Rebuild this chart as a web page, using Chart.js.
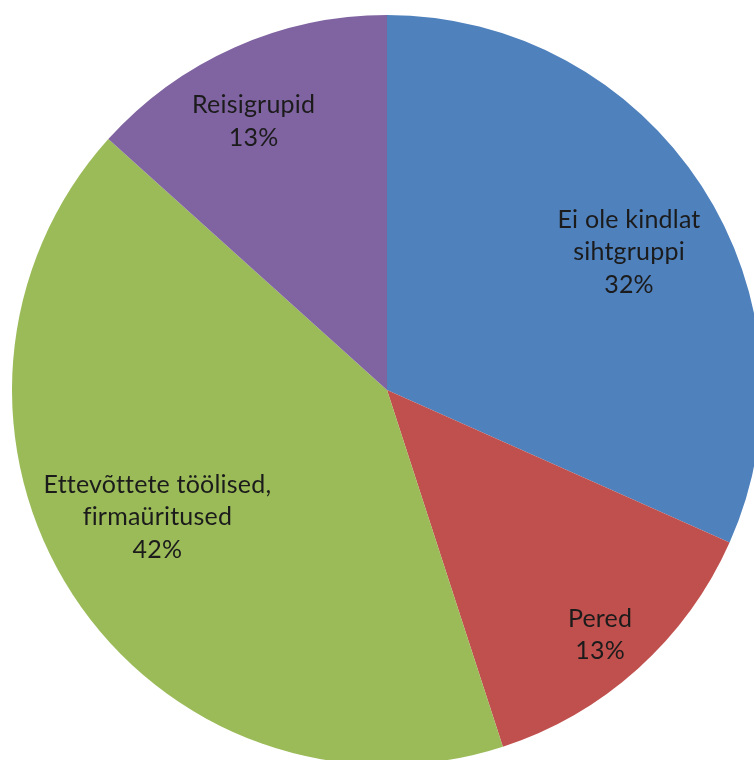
<!DOCTYPE html>
<html>
<head>
<meta charset="utf-8">
<script src="https://cdn.jsdelivr.net/npm/chart.js@4.4.1/dist/chart.umd.min.js"></script>
<style>
  html, body { margin: 0; padding: 0; background: #fff; overflow: hidden; width: 754px; height: 760px; }
  #wrap { position: absolute; left: 12px; top: 15px; width: 750px; height: 750px; }
</style>
</head>
<body>
<div id="wrap"><canvas id="myChart" width="750" height="750"></canvas></div>
<script>
// data
const categories = [ [ 'Ei ole kindlat', 'sihtgruppi' ], [ 'Pered' ], [ 'Ettevõttete töölised,', 'firmaüritused' ], [ 'Reisigrupid' ] ];
const values = [ 19, 8, 25, 8 ];
const colors = [ '#4F81BD', '#C0504D', '#9BBB59', '#8064A2' ];

// label placement per slice: [angle shift in degrees, radius fraction]
const labelPlace = [ [ 3.3, 0.743 ], [ 1, 0.866 ], [ 4, 0.70 ], [ -2.4, 0.80 ] ];

const sliceLabels = {
  id: 'sliceLabels',
  afterDatasetsDraw( chart ) {
    const { ctx } = chart;
    const meta = chart.getDatasetMeta( 0 );
    const total = values.reduce( ( a, b ) => a + b, 0 );
    ctx.save();
    ctx.font = '25px Lato';
    // no "fi" ligature, like the original
    if ( 'letterSpacing' in ctx ) ctx.letterSpacing = '0.2px';
    if ( 'textRendering' in ctx ) ctx.textRendering = 'optimizeSpeed';
    ctx.fillStyle = '#1b1b1b';
    ctx.textAlign = 'center';
    ctx.textBaseline = 'middle';
    meta.data.forEach( ( arc, i ) => {
      const p = arc.getProps( [ 'x', 'y', 'startAngle', 'endAngle', 'outerRadius' ], true );
      const mid = ( p.startAngle + p.endAngle ) / 2 + labelPlace[ i ][ 0 ] * Math.PI / 180;
      const r = p.outerRadius * labelPlace[ i ][ 1 ];
      const cx = p.x + Math.cos( mid ) * r;
      const cy = p.y + Math.sin( mid ) * r;
      const lines = categories[ i ].concat( [ Math.round( values[ i ] / total * 100 ) + '%' ] );
      const lh = 32.5;
      lines.forEach( ( t, j ) => {
        ctx.fillText( t, cx, cy + ( j - ( lines.length - 1 ) / 2 ) * lh );
      } );
    } );
    ctx.restore();
  }
};

const ctx = document.getElementById( 'myChart' ).getContext( '2d' );
const myChart = new Chart( ctx, {
  type: 'pie',
  data: {
    labels: categories.map( c => c.join( ' ' ) ),
    datasets: [ {
      data: values,
      backgroundColor: colors,
      borderWidth: 0
    } ]
  },
  options: {
    responsive: false,
    animation: false,
    layout: { padding: 0 },
    plugins: {
      legend: { display: false },
      tooltip: { enabled: false }
    }
  },
  plugins: [ sliceLabels ]
} );
</script>
</body>
</html>
